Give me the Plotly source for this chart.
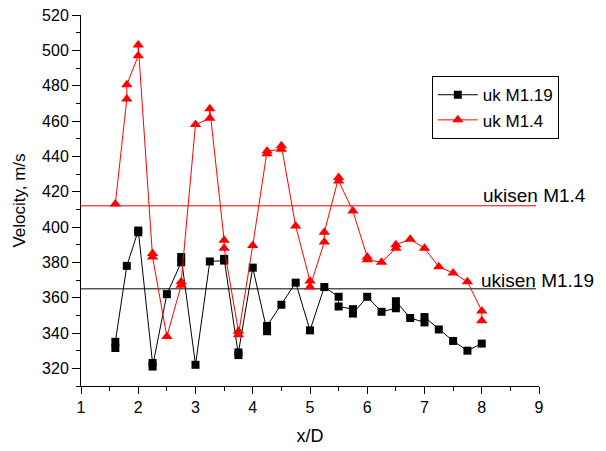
import plotly.graph_objects as go

# Series uk M1.19 (black squares)
x_m119 = [1.6, 1.6, 1.8, 2.0, 2.0, 2.25, 2.25, 2.5, 2.75, 2.75, 3.0, 3.25, 3.5, 3.5,
          3.75, 3.75, 4.0, 4.25, 4.25, 4.5, 4.75, 5.0, 5.25, 5.5, 5.5, 5.75, 5.75,
          6.0, 6.25, 6.5, 6.5, 6.75, 7.0, 7.0, 7.25, 7.5, 7.75, 8.0]
y_m119 = [331.5, 335, 378, 397, 398, 323, 321, 362, 380, 383, 322, 380.5, 381, 382,
          327.5, 329, 377, 341, 344, 356, 368.5, 341.5, 366, 360.5, 355, 353.5, 351,
          360.5, 352, 354, 358, 348.5, 346, 349, 342, 335.5, 330, 334]

# Series uk M1.4 (red triangles)
x_m14 = [1.6, 1.8, 1.8, 2.0, 2.0, 2.25, 2.25, 2.5, 2.75, 2.75, 3.0, 3.25, 3.25,
         3.5, 3.5, 3.75, 3.75, 4.0, 4.25, 4.25, 4.5, 4.5, 4.75, 5.0, 5.0, 5.25, 5.25,
         5.5, 5.5, 5.75, 6.0, 6.0, 6.25, 6.5, 6.5, 6.75, 7.0, 7.25, 7.5, 7.75, 8.0, 8.0]
y_m14 = [413, 472.5, 480.5, 497, 503, 385, 383, 338, 367, 369, 458, 461.5, 467,
         392.5, 388, 341, 339, 389.5, 441.5, 443, 444, 446, 400.5, 369.5, 366, 391.5, 397,
         428, 426, 409, 383, 381.5, 380, 388, 390, 393, 388, 377.5, 374, 369, 352.5, 347]

# Reference (isentropic) levels
ukisen_x = [1, 8.95]
ukisen_m14 = 412
ukisen_m119 = 365
ukisen_labels = ["ukisen M1.4", "ukisen M1.19"]

x_ticks = [1, 2, 3, 4, 5, 6, 7, 8, 9]
y_ticks = [320, 340, 360, 380, 400, 420, 440, 460, 480, 500, 520]

FONT = "Arial, Liberation Sans, sans-serif"

fig = go.Figure()
fig.add_trace(go.Scatter(x=ukisen_x, y=[ukisen_m14] * 2, mode="lines",
                         line=dict(color="#e00000", width=1), showlegend=False, hoverinfo="skip"))
fig.add_trace(go.Scatter(x=ukisen_x, y=[ukisen_m119] * 2, mode="lines",
                         line=dict(color="black", width=1), showlegend=False, hoverinfo="skip"))
fig.add_trace(go.Scatter(x=x_m119, y=y_m119, mode="lines+markers", name="uk M1.19",
                         line=dict(color="black", width=1),
                         marker=dict(symbol="square", size=8, color="black")))
fig.add_trace(go.Scatter(x=x_m14, y=y_m14, mode="lines+markers", name="uk M1.4",
                         line=dict(color="#ff0000", width=1),
                         marker=dict(symbol="triangle-up", size=10, color="#ff0000")))

fig.add_annotation(x=7.99, y=418, xref="x", yref="y", text=ukisen_labels[0],
                   showarrow=False, xanchor="left", yanchor="middle",
                   font=dict(family=FONT, size=19, color="black"))
fig.add_annotation(x=7.95, y=370, xref="x", yref="y", text=ukisen_labels[1],
                   showarrow=False, xanchor="left", yanchor="middle",
                   font=dict(family=FONT, size=19, color="black"))

fig.update_layout(
    width=606, height=451,
    margin=dict(l=81, r=67, t=15, b=65),
    paper_bgcolor="white", plot_bgcolor="white",
    font=dict(family=FONT, size=16, color="black"),
    legend=dict(x=0.766, y=0.835, xanchor="left", yanchor="top",
                bordercolor="black", borderwidth=1, bgcolor="white",
                font=dict(family=FONT, size=17, color="black"),
                tracegroupgap=0, itemwidth=40),
    xaxis=dict(range=[1, 9], tickvals=x_ticks, showgrid=False, zeroline=False,
               showline=True, linecolor="black", linewidth=1, automargin=False,
               ticks="outside", ticklen=7, tickcolor="black",
               minor=dict(dtick=0.5, ticks="outside", ticklen=4, tickcolor="black"),
               title=dict(text="x/D", font=dict(family=FONT, size=18), standoff=14)),
    yaxis=dict(range=[310, 520], tickvals=y_ticks, showgrid=False, zeroline=False,
               showline=True, linecolor="black", linewidth=1, automargin=False,
               ticks="outside", ticklen=8, tickcolor="black",
               minor=dict(dtick=10, tick0=310, ticks="outside", ticklen=4, tickcolor="black"),
               title=dict(text="Velocity, m/s", font=dict(family=FONT, size=17), standoff=12)),
)

fig.write_html("out.html")
